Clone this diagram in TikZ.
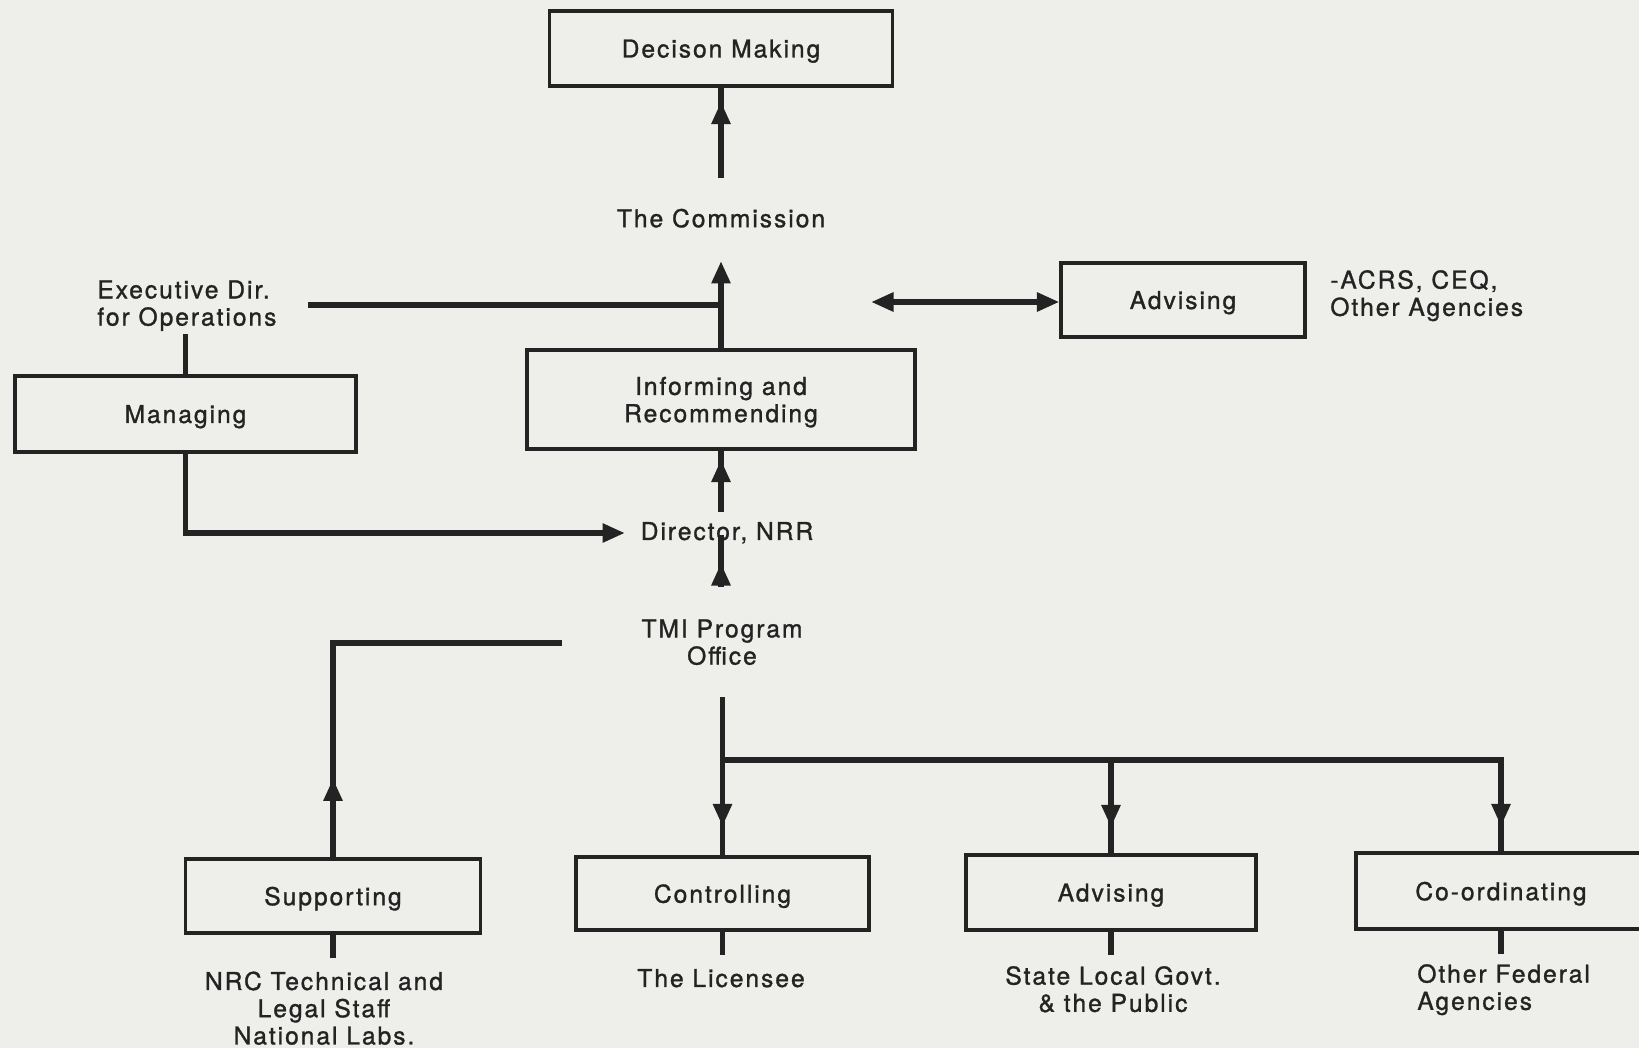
\documentclass[tikz,border=0pt]{standalone}
\usepackage{fontspec}
\setmainfont{TeX Gyre Heros}[LetterSpace=8,FakeBold=1.2]
\usepackage{tikz}
\usetikzlibrary{arrows.meta}
\usetikzlibrary{decorations.markings}
\definecolor{ink}{RGB}{35,35,35}
\definecolor{paper}{RGB}{238,238,235}
\newcommand{\diagfont}{\fontsize{14}{15.5}\selectfont}
\tikzstyle{block}=[draw=ink,line width=1.8pt,inner sep=0pt,align=center,text=ink,text depth=0pt]
\tikzstyle{txt}=[inner sep=0pt,align=center,text=ink,text depth=0pt]
\tikzstyle{flow}=[draw=ink,line width=3.2pt]

\begin{document}
\begin{tikzpicture}[x=0.02cm,y=-0.02cm,font=\diagfont,
    >={Triangle[length=0.45cm,width=0.36cm]},
    tipat/.style={postaction=decorate,decoration={
        markings,
        mark=at position #1 with {\arrow{>}}}}
  ]
    \fill[paper] (0,0) rectangle (1639,1048);
    \useasboundingbox (0,0) rectangle (1639,1048);

    % boxes
    \node[block,minimum width=6.86cm,minimum height=1.5cm] (dec) at (721,48.5) {Decison Making};
    \node[block,minimum width=4.88cm,minimum height=1.48cm] (advtop) at (1183,300) {Advising};
    \node[block,minimum width=6.82cm,minimum height=1.52cm] (manage) at (185.5,414) {Managing};
    \node[block,minimum width=7.76cm,minimum height=1.98cm] (inform) at (721,399.5) {Informing and\\Recommending};
    \node[block,minimum width=5.9cm,minimum height=1.48cm] (support) at (333,896) {Supporting};
    \node[block,minimum width=5.86cm,minimum height=1.46cm] (control) at (722.5,893.5) {Controlling};
    \node[block,minimum width=5.8cm,minimum height=1.5cm] (advbot) at (1111,892.5) {Advising};
    \node[block,minimum width=5.8cm,minimum height=1.52cm] (coord) at (1501,891) {Co-ordinating};

    % texts
    \node[txt] (commission) at (721,218) {The Commission};
    \node[txt,align=left,anchor=west] (execdir) at (97,303) {Executive Dir.\\for Operations};
    \node[txt,align=left,anchor=west] (acrs) at (1330,293) {-ACRS, CEQ,\\Other Agencies};
    \node[txt] (director) at (727,531) {Director, NRR};
    \node[txt] (tmi) at (722,642) {TMI Program\\Office};
    \node[txt] (nrc) at (324,1008) {NRC Technical and\\Legal Staff\\National Labs.};
    \node[txt] (licensee) at (721,978) {The Licensee};
    \node[txt] (state) at (1113,989) {State Local Govt.\\\& the Public};
    \node[txt,align=left,anchor=west] (federal) at (1417,987) {Other Federal\\Agencies};

    \coordinate (comS) at (721,178);
    \coordinate (comN) at (721,261);
    \coordinate (edirE) at (308,305);
    \coordinate (edirS) at (185.5,334);
    \coordinate (dblW) at (871,302);
    \coordinate (dirW) at (625,533);
    \coordinate (dirN) at (721,512);
    \coordinate (dirC) at (721,535);
    \coordinate (tmiN) at (721,587);
    \coordinate (tmiW) at (562,643);
    \coordinate (tmiS) at (722.5,697);
    \coordinate (fork) at (722.5,760);

    % connectors
    \draw[flow,tipat=-0.28cm] (comS) -- (dec.south);
    \draw[flow,->] (inform.north) -- (comN);
    \draw[flow] (edirE) -- (edirE -| inform.north);
    \draw[flow,<->] (dblW) -- (dblW -| advtop.west);
    \draw[flow] (edirS) -- (manage.north);
    \draw[flow,->] (manage.south) |- (dirW);
    \draw[flow,tipat=-0.18cm] (dirN) -- (inform.south);
    \draw[flow,tipat=0.48cm] (tmiN) -- (dirC);
    \draw[flow,tipat=1.58cm] (support.north) |- (tmiW);
    \draw[flow,tipat=-0.58cm] (tmiS) -- (control.north);
    \draw[flow,tipat=-0.5cm] (fork) -| (coord.north);
    \draw[flow,tipat=-0.52cm] (fork -| advbot.north) -- (advbot.north);
    \foreach \b in {support,control,advbot,coord}
      \draw[flow] (\b.south) -- ++(0,23);

\end{tikzpicture}
\end{document}
